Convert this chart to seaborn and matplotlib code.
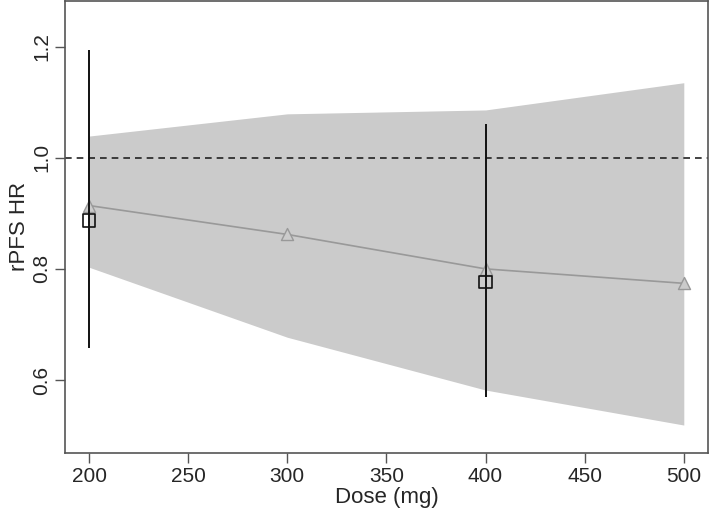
import numpy as np
import pandas as pd
import matplotlib
matplotlib.use("Agg")
import matplotlib.pyplot as plt
import seaborn as sns

# model-based estimates (triangles + band)
dose = [200, 300, 400, 500]
hr_model = [0.914, 0.862, 0.800, 0.774]
band_lo = [0.803, 0.677, 0.582, 0.519]
band_hi = [1.039, 1.079, 1.086, 1.135]

# observed estimates (squares + error bars)
dose_obs = [200, 400]
hr_obs = [0.887, 0.776]
obs_lo = [0.657, 0.569]
obs_hi = [1.194, 1.061]

sns.set_style("white")
plt.rcParams["font.family"] = ["Liberation Sans", "DejaVu Sans"]

fig = plt.figure(figsize=(7.09, 5.14), dpi=100)
ax = fig.add_axes([0.092, 0.119, 0.906, 0.879])

model_df = pd.DataFrame({"dose": dose, "hr": hr_model})
obs_df = pd.DataFrame({"dose": dose_obs, "hr": hr_obs})

band_col = "#cbcbcb"
ax.fill_between(dose, band_lo, band_hi, color=band_col, linewidth=0, zorder=1)
ax.axhline(1.0, color="#222222", linestyle=(0, (4, 3)), linewidth=1.2, zorder=2)
sns.lineplot(data=model_df, x="dose", y="hr", ax=ax, color="#999999",
             linewidth=1.2, zorder=3)
# fill triangles with band colour so the line looks broken at each point
sns.scatterplot(data=model_df, x="dose", y="hr", ax=ax, marker="^", s=75,
                facecolor=band_col, edgecolor="#999999", linewidth=1.0, zorder=4)
ax.vlines(dose_obs, obs_lo, obs_hi, color="#111111", linewidth=1.4, zorder=5)
sns.scatterplot(data=obs_df, x="dose", y="hr", ax=ax, marker="s", s=80,
                facecolor="none", edgecolor="#111111", linewidth=1.2, zorder=6)

ax.set_xlim(188, 512)
ax.set_ylim(0.469, 1.282)
ax.set_xticks([200, 250, 300, 350, 400, 450, 500])
ax.set_yticks([0.6, 0.8, 1.0, 1.2])
ax.set_yticklabels(["0.6", "0.8", "1.0", "1.2"], rotation=90, va="center")
ax.tick_params(axis="both", direction="out", length=7, width=1, color="#555555",
               labelsize=15, pad=3, bottom=True, left=True)
for s in ax.spines.values():
    s.set_color("#555555")
    s.set_linewidth(1.2)
ax.set_xlabel("Dose (mg)", fontsize=16, labelpad=1)
ax.set_ylabel("rPFS HR", fontsize=16, labelpad=2)

fig.savefig("out.png", dpi=100)
